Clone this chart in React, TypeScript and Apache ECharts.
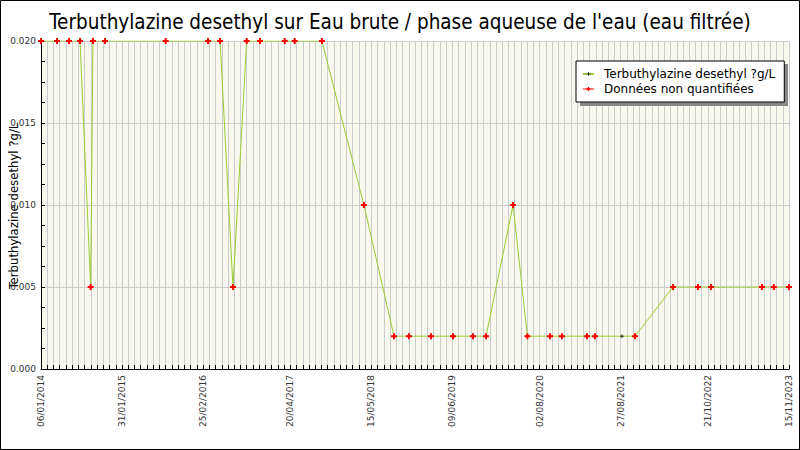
import React, { useRef, useEffect } from 'react'
import * as echarts from 'echarts'

const FONT = "'DejaVu Sans Condensed', 'DejaVu Sans', sans-serif"
const FONT_WIDE = "'DejaVu Sans', sans-serif"

// dates des prélèvements
const DATES = [
  '2014-01-06', '2014-03-24', '2014-05-21', '2014-07-13', '2014-09-02', '2014-09-13', '2014-11-10',
  '2015-08-29', '2016-03-20', '2016-05-17', '2016-07-18', '2016-09-22', '2016-11-25',
  '2017-03-24', '2017-05-11', '2017-09-19', '2018-04-09', '2018-09-01', '2018-11-12',
  '2019-02-26', '2019-06-12', '2019-09-16', '2019-11-18', '2020-03-27', '2020-06-04',
  '2020-09-21', '2020-11-17', '2021-03-18', '2021-04-25', '2021-09-02', '2021-11-04',
  '2022-05-06', '2022-09-03', '2022-11-05', '2023-07-08', '2023-09-03', '2023-11-15',
]

// résultats (µg/L)
const VALUES = [
  0.02, 0.02, 0.02, 0.02, 0.005, 0.02, 0.02,
  0.02, 0.02, 0.02, 0.005, 0.02, 0.02,
  0.02, 0.02, 0.02, 0.01, 0.002, 0.002,
  0.002, 0.002, 0.002, 0.002, 0.01, 0.002,
  0.002, 0.002, 0.002, 0.002, 0.002, 0.002,
  0.005, 0.005, 0.005, 0.005, 0.005, 0.005,
]

// true = donnée non quantifiée
const NON_QUANTIFIED = [
  true, true, true, true, true, true, true,
  true, true, true, true, true, true,
  true, true, true, true, true, true,
  true, true, true, true, true, true,
  true, true, true, true, false, true,
  true, true, true, true, true, true,
]

const X_LABELS = [
  '06/01/2014', '31/01/2015', '25/02/2016', '20/04/2017', '15/05/2018',
  '09/06/2019', '02/08/2020', '27/08/2021', '21/10/2022', '15/11/2023',
]

const Y_TICKS = [0, 0.005, 0.01, 0.015, 0.02]

const SERIES_NAME = 'Terbuthylazine desethyl ?g/L'
const NQ_NAME = 'Données non quantifiées'

const DAY = 86400000
const ORIGIN = Date.UTC(2014, 0, 6)
const isoToDay = (s: string) => {
  const [y, m, d] = s.split('-').map(Number)
  return Math.round((Date.UTC(y, m - 1, d) - ORIGIN) / DAY)
}
const frToDay = (s: string) => {
  const [d, m, y] = s.split('/').map(Number)
  return Math.round((Date.UTC(y, m - 1, d) - ORIGIN) / DAY)
}

const PLUS = 'path://M2,0H4V2H6V4H4V6H2V4H0V2H2Z'
const SMALL_PLUS = 'path://M2.5,0H3.5V2.5H6V3.5H3.5V6H2.5V3.5H0V2.5H2.5Z'

export default function App() {
  const chartRef = useRef<HTMLDivElement>(null)

  useEffect(() => {
    if (!chartRef.current) return
    const chart = echarts.init(chartRef.current, undefined, { renderer: 'svg' })

    const labelMap: Record<number, string> = {}
    X_LABELS.forEach((l) => { labelMap[frToDay(l)] = l })
    const lastDay = frToDay(X_LABELS[X_LABELS.length - 1])

    const allData = DATES.map((d, i) => [isoToDay(d), VALUES[i]])
    const nqData = DATES.map((d, i) => (NON_QUANTIFIED[i] ? [isoToDay(d), VALUES[i]] : null)).filter(Boolean)

    chart.setOption({
      animation: false,
      backgroundColor: '#fff',
      textStyle: { fontFamily: FONT },
      title: {
        text: 'Terbuthylazine desethyl sur Eau brute / phase aqueuse de l\'eau (eau filtrée)',
        left: 'center',
        top: 6,
        textStyle: { fontFamily: FONT, fontSize: 20.5, fontWeight: 'normal', color: '#000' },
      },
      grid: {
        left: 41,
        right: 11,
        top: 41,
        bottom: 81,
        show: true,
        backgroundColor: '#f8f8ef',
        borderWidth: 0,
      },
      legend: {
        orient: 'vertical',
        left: 576,
        top: 61,
        z: 5,
        padding: [7, 9, 7, 6],
        itemWidth: 11,
        itemHeight: 5,
        itemGap: 3,
        backgroundColor: '#fff',
        borderColor: '#000',
        borderWidth: 1,
        textStyle: { fontFamily: FONT_WIDE, fontSize: 12, lineHeight: 12, color: '#000', padding: [0, 0, 0, 5] },
        data: [
          { name: SERIES_NAME },
          { name: NQ_NAME, lineStyle: { color: '#ff0000', opacity: 1, width: 1 } },
        ],
      },
      graphic: [
        {
          type: 'rect',
          z: 4,
          shape: { x: 580, y: 64, width: 208, height: 42 },
          style: { fill: '#888' },
        },
        {
          type: 'text',
          x: 13,
          y: 206,
          rotation: Math.PI / 2,
          style: {
            text: 'Terbuthylazine desethyl ?g/L',
            fontFamily: FONT,
            fontSize: 13,
            fill: '#000',
            textAlign: 'center',
            textVerticalAlign: 'middle',
            verticalAlign: 'middle',
          },
        },
        {
          type: 'rect',
          z: 100,
          shape: { x: 0.5, y: 0.5, width: 799, height: 449 },
          style: { fill: 'none', stroke: '#000', lineWidth: 1 },
        },
      ],
      xAxis: {
        type: 'value',
        min: 0,
        max: lastDay,
        interval: 30,
        axisLine: { lineStyle: { color: '#000', width: 1 } },
        axisTick: { inside: true, length: 4, lineStyle: { color: '#000' } },
        splitLine: { show: true, lineStyle: { color: '#cccccc', width: 1 } },
        axisLabel: {
          rotate: 90,
          margin: 6,
          fontSize: 9,
          color: '#333',
          fontFamily: FONT_WIDE,
          showMinLabel: true,
          showMaxLabel: true,
          formatter: (v: number) => labelMap[Math.round(v)] ?? '',
        },
      },
      yAxis: {
        type: 'value',
        min: Y_TICKS[0],
        max: Y_TICKS[Y_TICKS.length - 1],
        interval: 0.005,
        axisLine: { show: true, lineStyle: { color: '#000', width: 1 } },
        axisTick: { show: true, inside: true, length: 4, lineStyle: { color: '#000' } },
        minorTick: { show: true, splitNumber: 4, length: 4, lineStyle: { color: '#000' } },
        splitLine: { show: true, lineStyle: { color: '#cccccc', width: 1 } },
        axisLabel: {
          margin: 5,
          fontSize: 9,
          color: '#333',
          fontFamily: FONT_WIDE,
          formatter: (v: number) => v.toFixed(3),
        },
      },
      series: [
        {
          name: SERIES_NAME,
          type: 'line',
          data: allData,
          symbol: SMALL_PLUS,
          symbolSize: 4,
          showAllSymbol: true,
          itemStyle: { color: '#000' },
          lineStyle: { color: '#9acd32', width: 1 },
          z: 2,
        },
        {
          name: NQ_NAME,
          type: 'line',
          data: nqData,
          symbol: PLUS,
          symbolSize: 6,
          showAllSymbol: true,
          itemStyle: { color: '#ff0000' },
          lineStyle: { color: '#ff0000', opacity: 0, width: 1 },
          z: 3,
        },
      ],
    })

    return () => chart.dispose()
  }, [])

  return (
    <div
      ref={chartRef}
      style={{ position: 'absolute', left: 0, top: 0, width: '800px', height: '450px' }}
    />
  )
}
